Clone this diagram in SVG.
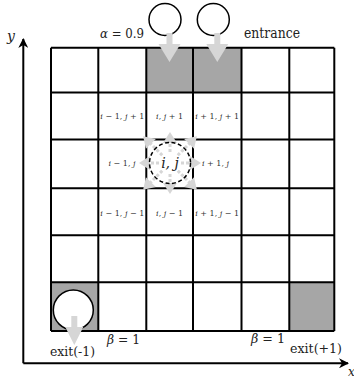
<svg xmlns="http://www.w3.org/2000/svg" width="354" height="379" viewBox="0 0 354 379">
<style>
.grid{stroke:#000;stroke-width:2;fill:none}
.shade{fill:#a6a6a6;stroke:none}
.arw{fill:#d6d6d6;stroke:none}
.circ{fill:#fff;stroke:#000;stroke-width:1.5}
.t{font-family:"DejaVu Serif","Liberation Serif",serif;fill:#222}
.lbl{font-family:"DejaVu Serif","Liberation Serif",serif;font-size:8px;fill:#333;text-anchor:middle}
.it{font-style:italic}
.axis{stroke:#000;stroke-width:2;fill:none}
</style>
<defs>
<marker id="ah" viewBox="0 0 10 10" refX="9" refY="5" markerWidth="5" markerHeight="5" orient="auto" markerUnits="strokeWidth">
<path d="M0,0 L10,5 L0,10 L3,5 z" fill="#000"/>
</marker>
<g id="oa">
<line x1="11" y1="0" x2="23" y2="0" stroke="#d6d6d6" stroke-width="3" stroke-dasharray="3 2"/>
<polygon class="arw" points="20,-7 31,0 20,7"/>
</g>
<g id="da">
<line x1="11" y1="0" x2="30" y2="0" stroke="#d6d6d6" stroke-width="3" stroke-dasharray="3 2"/>
<polygon class="arw" points="27,-7 38,0 27,7"/>
</g>
</defs>
<rect width="354" height="379" fill="#fff"/>

<g id="axes">
<line class="axis" x1="23.3" y1="363.3" x2="23.3" y2="39" marker-end="url(#ah)"/>
<line class="axis" x1="23.3" y1="363.3" x2="348" y2="363.3" marker-end="url(#ah)"/>
<text class="t it" x="7" y="41" font-size="14">y</text>
<text class="t it" x="348" y="376" font-size="12">x</text>
</g>

<g id="grid">
<rect class="shade" x="146.3" y="47.7" width="46.7" height="44.8"/>
<rect class="shade" x="193" y="47.7" width="48.5" height="44.8"/>
<rect class="shade" x="51" y="282.3" width="47.3" height="48.7"/>
<rect class="shade" x="289.3" y="282.3" width="45" height="48.7"/>
<path class="grid" d="M51,47.7V331 M98.3,47.7V331 M146.3,47.7V331 M193,47.7V331 M241.5,47.7V331 M289.3,47.7V331 M334.3,47.7V331 M51,47.7H334.3 M51,92.5H334.3 M51,139.5H334.3 M51,188.3H334.3 M51,235.3H334.3 M51,282.3H334.3 M51,331H334.3"/>
</g>

<g id="labels">
<text class="lbl" x="122.3" y="118.5"><tspan class="it">i</tspan> − 1, <tspan class="it">j</tspan> + 1</text>
<text class="lbl" x="169.6" y="118.5"><tspan class="it">i</tspan>, <tspan class="it">j</tspan> + 1</text>
<text class="lbl" x="217.2" y="118.5"><tspan class="it">i</tspan> + 1, <tspan class="it">j</tspan> + 1</text>
<text class="lbl" x="122" y="166"><tspan class="it">i</tspan> − 1, <tspan class="it">j</tspan></text>
<text class="lbl" x="215.5" y="166"><tspan class="it">i</tspan> + 1, <tspan class="it">j</tspan></text>
<text class="lbl" x="122.3" y="215.5"><tspan class="it">i</tspan> − 1, <tspan class="it">j</tspan> − 1</text>
<text class="lbl" x="169.6" y="215.5"><tspan class="it">i</tspan>, <tspan class="it">j</tspan> − 1</text>
<text class="lbl" x="217.2" y="215.5"><tspan class="it">i</tspan> + 1, <tspan class="it">j</tspan> − 1</text>
</g>

<g id="center-node">
<use href="#oa" transform="translate(170,163) rotate(0)"/>
<use href="#oa" transform="translate(170,163) rotate(90)"/>
<use href="#oa" transform="translate(170,163) rotate(180)"/>
<use href="#oa" transform="translate(170,163) rotate(270)"/>
<use href="#da" transform="translate(170,163) rotate(45)"/>
<use href="#da" transform="translate(170,163) rotate(135)"/>
<use href="#da" transform="translate(170,163) rotate(225)"/>
<use href="#da" transform="translate(170,163) rotate(315)"/>
<circle cx="170" cy="163" r="20.5" fill="none" stroke="#000" stroke-width="1.5" stroke-dasharray="4 2.5"/>
<text class="t it" x="170" y="168" font-size="14" text-anchor="middle">i, j</text>
</g>

<g id="entrance-1">
<circle class="circ" cx="165" cy="19.5" r="16"/>
<polygon class="arw" points="166.5,33 172.5,33 172.5,44 180.5,44 169.5,62 158.5,44 166.5,44"/>
</g>
<g id="entrance-2">
<circle class="circ" cx="213.3" cy="19.5" r="16"/>
<polygon class="arw" points="214.3,33 220.3,33 220.3,44 228.3,44 217.3,62 206.3,44 214.3,44"/>
</g>
<g id="exit-left">
<circle class="circ" cx="73.3" cy="310" r="20"/>
<polygon class="arw" points="71.3,316 77.3,316 77.3,327 83.3,327 74.3,345 65.3,327 71.3,327"/>
</g>

<g id="texts">
<text class="t" x="144" y="38" font-size="13" text-anchor="end" textLength="44" lengthAdjust="spacingAndGlyphs"><tspan class="it">α</tspan> = 0.9</text>
<text class="t" x="244" y="38" font-size="14" textLength="56" lengthAdjust="spacingAndGlyphs">entrance</text>
<text class="t" x="50" y="356" font-size="13" textLength="45" lengthAdjust="spacingAndGlyphs">exit(-1)</text>
<text class="t" x="107" y="344" font-size="13" textLength="33" lengthAdjust="spacingAndGlyphs"><tspan class="it">β</tspan> = 1</text>
<text class="t" x="251" y="343" font-size="13" textLength="34" lengthAdjust="spacingAndGlyphs"><tspan class="it">β</tspan> = 1</text>
<text class="t" x="290" y="353" font-size="13" textLength="52" lengthAdjust="spacingAndGlyphs">exit(+1)</text>
</g>
</svg>
